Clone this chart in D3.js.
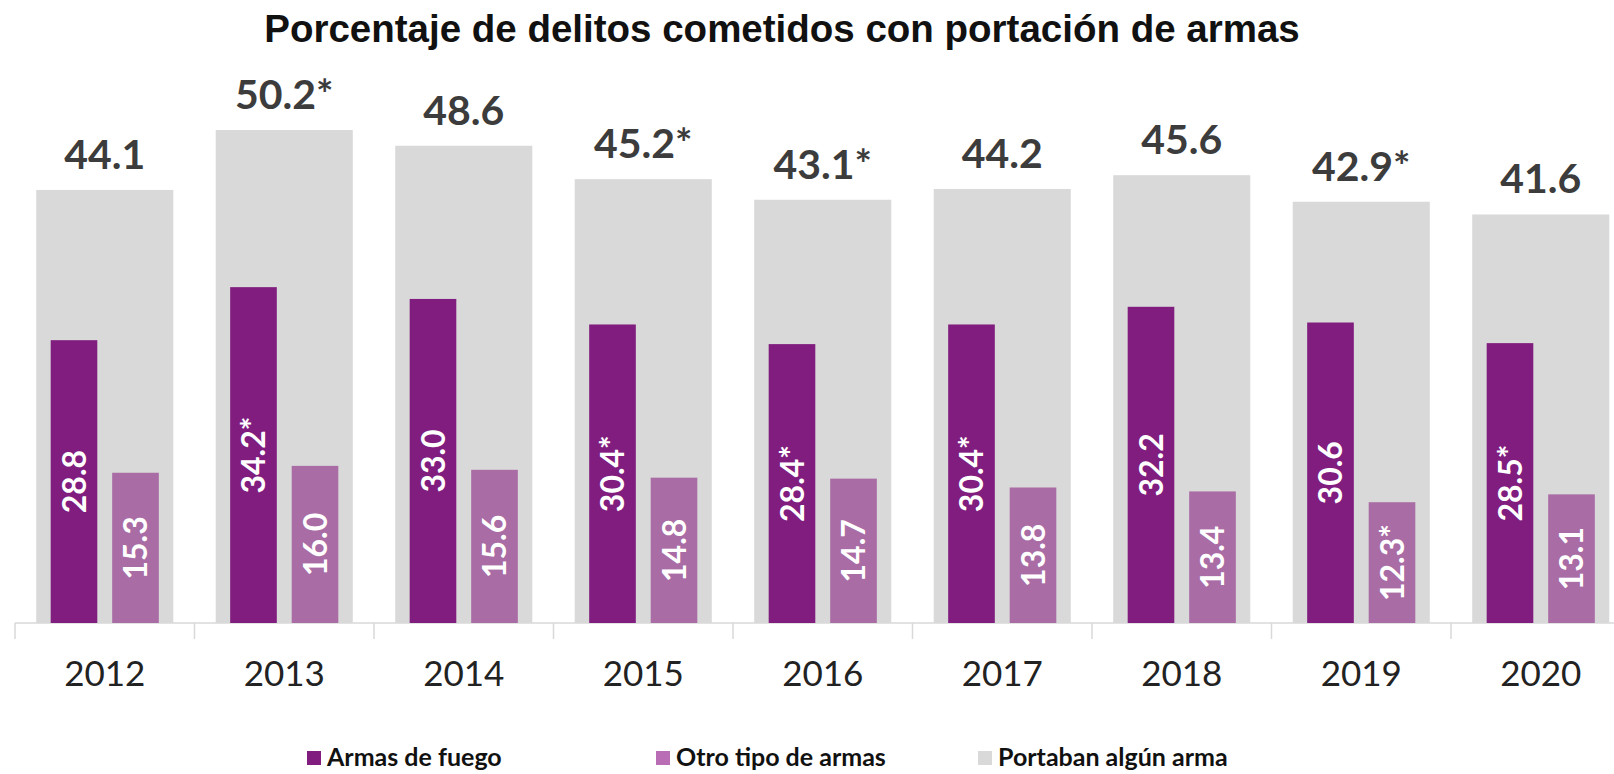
<!DOCTYPE html>
<html>
<head>
<meta charset="utf-8">
<script src="https://cdn.jsdelivr.net/npm/d3@7"></script>
<style>
  html, body { margin: 0; padding: 0; background: #fff; }
  svg { display: block; }
</style>
</head>
<body>
<div id="chart"></div>
<script>
// data
var years = ["2012", "2013", "2014", "2015", "2016", "2017", "2018", "2019", "2020"];
var anyWeapon = [44.1, 50.2, 48.6, 45.2, 43.1, 44.2, 45.6, 42.9, 41.6];
var anyWeaponLabels = ["44.1", "50.2*", "48.6", "45.2*", "43.1*", "44.2", "45.6", "42.9*", "41.6"];
var firearms = [28.8, 34.2, 33.0, 30.4, 28.4, 30.4, 32.2, 30.6, 28.5];
var firearmsLabels = ["28.8", "34.2*", "33.0", "30.4*", "28.4*", "30.4*", "32.2", "30.6", "28.5*"];
var otherWeapons = [15.3, 16.0, 15.6, 14.8, 14.7, 13.8, 13.4, 12.3, 13.1];
var otherWeaponsLabels = ["15.3", "16.0", "15.6", "14.8", "14.7", "13.8", "13.4", "12.3*", "13.1"];
var legendNames = ["Armas de fuego", "Otro tipo de armas", "Portaban algún arma"];
var title = "Porcentaje de delitos cometidos con portación de armas";

var width = 1614, height = 774;
var colGray = "#d9d9d9", colPurple = "#801d7e", colPink = "#a96ca5";

var svg = d3.select("#chart").append("svg")
    .attr("width", width)
    .attr("height", height);

var baseY = 623;

// category cells (the last one runs past the right edge, as in the original)
var x = d3.scaleBand().domain(years).range([15, 15 + 179.5 * years.length]).padding(0);
var y = d3.scaleLinear().domain([0, 60]).range([baseY, baseY - 60 * 9.82]);

// gray background bar inside a cell
var xg = d3.scaleBand().domain(["all"]).range([0, x.bandwidth()]).padding(0.134);
// the two narrow bars inside a cell
var xs = d3.scaleBand().domain(["fuego", "otro"]).range([0, x.bandwidth()])
    .paddingInner(0.242).paddingOuter(0.58);

var rows = years.map(function(yr, i) {
  return {
    year: yr,
    all: anyWeapon[i], allLab: anyWeaponLabels[i],
    fuego: firearms[i], fuegoLab: firearmsLabels[i],
    otro: otherWeapons[i], otroLab: otherWeaponsLabels[i]
  };
});

// title
svg.append("text")
  .attr("x", 782)
  .attr("y", 42)
  .attr("text-anchor", "middle")
  .style("font-family", "'Liberation Sans', Arial, sans-serif")
  .style("font-weight", "bold")
  .style("font-size", "38.5px")
  .style("fill", "#111")
  .text(title);

// axis line and ticks
var axis = svg.append("g").attr("transform", "translate(0," + baseY + ")");
axis.append("line")
  .attr("x1", x.range()[0]).attr("x2", width)
  .attr("y1", 0).attr("y2", 0)
  .attr("stroke", "#d9d9d9").attr("stroke-width", 1.5);
axis.selectAll("line.tick")
  .data(years)
  .enter().append("line")
  .attr("class", "tick")
  .attr("x1", function(d) { return x(d); })
  .attr("x2", function(d) { return x(d); })
  .attr("y1", 0).attr("y2", 16)
  .attr("stroke", "#d9d9d9").attr("stroke-width", 1.5);
axis.selectAll("text")
  .data(years)
  .enter().append("text")
  .attr("x", function(d) { return x(d) + x.bandwidth() / 2; })
  .attr("y", 63)
  .attr("text-anchor", "middle")
  .style("font-family", "Lato, 'Open Sans', sans-serif")
  .style("font-size", "35px")
  .style("fill", "#222")
  .text(function(d) { return d; });

var cell = svg.append("g").selectAll("g")
  .data(rows)
  .enter().append("g")
  .attr("transform", function(d) { return "translate(" + x(d.year) + ",0)"; });

// gray bars
cell.append("rect")
  .attr("x", xg("all"))
  .attr("width", xg.bandwidth())
  .attr("y", function(d) { return y(d.all); })
  .attr("height", function(d) { return baseY - y(d.all); })
  .attr("fill", colGray);

cell.append("text")
  .attr("x", xg("all") + xg.bandwidth() / 2)
  .attr("y", function(d) { return y(d.all) - 21; })
  .attr("text-anchor", "middle")
  .style("font-family", "Lato, 'Open Sans', sans-serif")
  .style("font-weight", "bold")
  .style("font-size", "41px")
  .style("fill", "#3c3c3c")
  .text(function(d) { return d.allLab; });

// narrow bars
[["fuego", colPurple], ["otro", colPink]].forEach(function(s) {
  var key = s[0];
  cell.append("rect")
    .attr("x", xs(key))
    .attr("width", xs.bandwidth())
    .attr("y", function(d) { return y(d[key]); })
    .attr("height", function(d) { return baseY - y(d[key]); })
    .attr("fill", s[1]);

  cell.append("text")
    .attr("transform", function(d) {
      var cx = xs(key) + xs.bandwidth() / 2;
      var cy = (y(d[key]) + baseY) / 2;
      return "translate(" + cx + "," + cy + ") rotate(-90)";
    })
    .attr("text-anchor", "middle")
    .attr("dy", "0.36em")
    .style("font-family", "Lato, 'Open Sans', sans-serif")
    .style("font-weight", "bold")
    .style("font-size", "32px")
    .style("fill", "#fff")
    .text(function(d) { return d[key + "Lab"]; });
});

// legend
var legendX = [307, 656, 978];
var legendCol = [colPurple, "#b86db5", colGray];
var legend = svg.append("g").selectAll("g")
  .data(legendNames)
  .enter().append("g")
  .attr("transform", function(d, i) { return "translate(" + legendX[i] + ",751)"; });
legend.append("rect")
  .attr("width", 14).attr("height", 14)
  .attr("fill", function(d, i) { return legendCol[i]; });
legend.append("text")
  .attr("x", 20)
  .attr("y", 15)
  .style("font-family", "Lato, 'Open Sans', sans-serif")
  .style("font-weight", "bold")
  .style("font-size", "25px")
  .style("fill", "#111")
  .text(function(d) { return d; });
</script>
</body>
</html>
